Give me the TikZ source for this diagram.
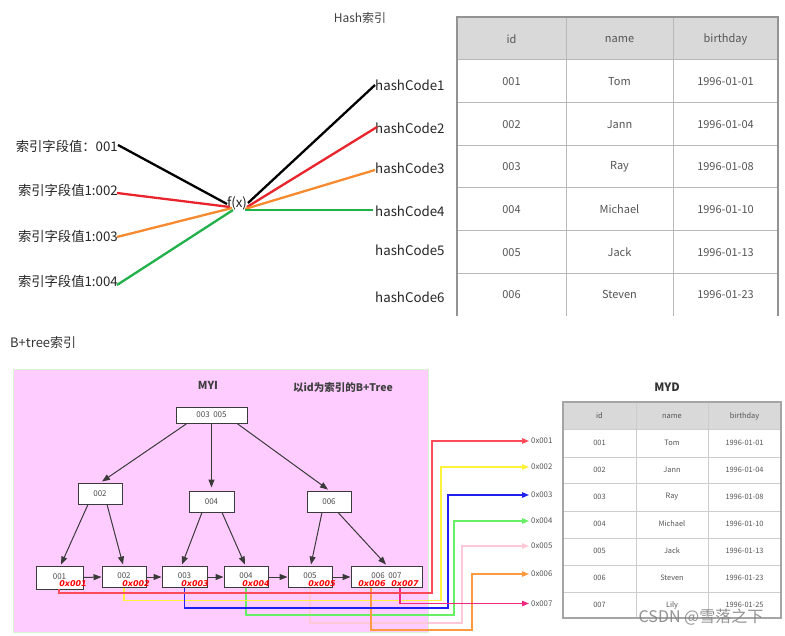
\documentclass[tikz,border=0pt]{standalone}
\usepackage{fontspec}
\setmainfont{Noto Sans CJK SC}
\newfontfamily\hexfont{DejaVu Sans}
\usetikzlibrary{arrows.meta}
\definecolor{hred}{HTML}{E8242C}
\definecolor{horange}{HTML}{F7892F}
\definecolor{hgreen}{HTML}{22B04B}
\definecolor{pinkbg}{HTML}{FFCCFF}
\definecolor{pinkborder}{HTML}{D8F5D0}
\definecolor{cred}{HTML}{FF4A5A}
\definecolor{cyellow}{HTML}{FFF23A}
\definecolor{cblue}{HTML}{2020F0}
\definecolor{cgreen}{HTML}{66F066}
\definecolor{cpink}{HTML}{FFC8D8}
\definecolor{corange}{HTML}{FF9A40}
\definecolor{cmag}{HTML}{F0287F}
\definecolor{hdrgray}{HTML}{D9D9D9}
\definecolor{gridgray}{HTML}{B8B8B8}
\definecolor{txtgray}{HTML}{555555}
\definecolor{treeline}{HTML}{3A3A3A}
\tikzset{
  hashlab/.style={font=\fontsize{13.3}{15}\selectfont, text=black!85, inner sep=0pt},
  hl/.style={line width=2.3pt},
  bigcell/.style={font=\fontsize{11}{13}\selectfont, text=txtgray, inner sep=0pt},
  smallcell/.style={font=\fontsize{7.4}{8}\selectfont, text=txtgray, inner sep=0pt},
  tnode/.style={draw=treeline, fill=white, line width=0.9pt, inner sep=0pt,
                font=\fontsize{8}{9}\selectfont, text=black!70},
  hexlab/.style={font=\hexfont\bfseries\itshape\fontsize{8}{9}\selectfont, text=red, inner sep=0pt},
  tarrow/.style={draw=treeline, line width=1pt, -{Triangle[length=8pt,width=6pt]}},
  carrow/.style={line width=1.3pt, -{Triangle[length=7pt,width=5.5pt]}},
  addr/.style={font=\fontsize{7.8}{9}\selectfont, text=txtgray, inner sep=0pt, anchor=west},
}
\begin{document}
\begin{tikzpicture}[x=1pt,y=-1pt]
\useasboundingbox (0,0) rectangle (785,636);
\fill[white] (0,0) rectangle (785,636);

% ---------------- Hash index ----------------
\node[font=\fontsize{12}{13}\selectfont, text=black!75] (htitle) at (360,18) {Hash索引};

\node[hashlab, anchor=east] (k1) at (118,146) {索引字段值：001};
\node[hashlab, anchor=east] (k2) at (118,190) {索引字段值1:002};
\node[hashlab, anchor=east] (k3) at (118,236) {索引字段值1:003};
\node[hashlab, anchor=east] (k4) at (118,281) {索引字段值1:004};

\node[hashlab] (fx) at (237,203) {f(x)};

\foreach \i/\y in {1/85,2/128,3/168,4/211,5/250,6/297}
  \node[hashlab, anchor=west] (h\i) at (375,\y) {hashCode\i};

\coordinate (s1) at (118,145);
\coordinate (s2) at (117,193);
\coordinate (s3) at (117,237);
\coordinate (s4) at (117,285);
\coordinate (e1) at (227,204);
\coordinate (e2) at (230,207);
\coordinate (e3) at (232,208);
\coordinate (e4) at (233,210);
\coordinate (o1) at (248,203);
\coordinate (o2) at (247,207);
\coordinate (o3) at (245,209);
\coordinate (o4) at (245,210);
\coordinate (c1) at (375,85);
\coordinate (c2) at (377,127);
\coordinate (c3) at (375,170);
\coordinate (c4) at (373,210);

\draw[hl, black]   (s1) -- (e1);
\draw[hl, hred]    (s2) -- (e2);
\draw[hl, horange] (s3) -- (e3);
\draw[hl, hgreen]  (s4) -- (e4);
\draw[hl, black]   (o1) -- (c1);
\draw[hl, hred]    (o2) -- (c2);
\draw[hl, horange] (o3) -- (c3);
\draw[hl, hgreen]  (o4) -- (c4);

% top table
\fill[hdrgray] (457,17) rectangle (778,60);
\foreach \y in {60,102.7,145.3,188,230.7,273.3}
  \draw[gridgray, line width=1pt] (457,\y) -- (778,\y);
\foreach \x in {566,673}
  \draw[gridgray, line width=1pt] (\x,17) -- (\x,316);
\draw[gridgray!80!black, line width=1.1pt] (457,316) -- (457,17) -- (778,17) -- (778,316);
\node[bigcell] (th1) at (511.5,39.5) {id};
\node[bigcell] (th2) at (619.5,39.5) {name};
\node[bigcell] (th3) at (725.5,39.5) {birthday};
\foreach \a/\b/\c [count=\i] in {001/Tom/1996-01-01,002/Jann/1996-01-04,003/Ray/1996-01-08,004/Michael/1996-01-10,005/Jack/1996-01-13,006/Steven/1996-01-23}{
  \pgfmathsetmacro{\yy}{81.5+42.67*(\i-1)}
  \node[bigcell] (ta\i) at (511.5,\yy) {\a};
  \node[bigcell] (tb\i) at (619.5,\yy) {\b};
  \node[bigcell] (tc\i) at (725.5,\yy) {\c};
}

% ---------------- B+tree ----------------
\node[font=\fontsize{13}{15}\selectfont, text=black!80, anchor=west, inner sep=0pt] (btitle) at (10,343) {B+tree索引};

\fill[pinkbg] (13,370) rectangle (428,632);
\draw[pinkborder, line width=1pt] (13,370) rectangle (428,632);
\node[font=\bfseries\fontsize{11}{12}\selectfont, text=black!75] (myi) at (208,385) {MYI};
\node[font=\bfseries\fontsize{10.5}{12}\selectfont, text=black!75] (myititle) at (343,388) {以id为索引的B+Tree};

\node[tnode, minimum width=71pt, minimum height=16pt] (root) at (211.5,415) {003\ \ 005};
\node[tnode, minimum width=44pt, minimum height=21pt] (n2) at (100,493.5) {002};
\node[tnode, minimum width=45pt, minimum height=21pt] (n4) at (211.5,501.5) {004};
\node[tnode, minimum width=44pt, minimum height=21pt] (n6) at (329,501.5) {006};

\node[tnode, minimum width=47pt, minimum height=23pt] (l1) at (59.5,577.5) {\raisebox{2.5pt}{001}};
\node[tnode, minimum width=44pt, minimum height=21pt] (l2) at (124,577) {\raisebox{2.5pt}{002}};
\node[tnode, minimum width=45pt, minimum height=21pt] (l3) at (184.5,577) {\raisebox{2.5pt}{003}};
\node[tnode, minimum width=44pt, minimum height=21pt] (l4) at (246,577) {\raisebox{2.5pt}{004}};
\node[tnode, minimum width=44pt, minimum height=21pt] (l5) at (310,577) {\raisebox{2.5pt}{005}};
\node[tnode, minimum width=71pt, minimum height=21pt] (l6) at (386.5,577) {\raisebox{2.5pt}{006\ \ 007}};

\node[hexlab] (x1) at (73,583.5) {0x001};
\node[hexlab] (x2) at (136,583.5) {0x002};
\node[hexlab] (x3) at (195,583.5) {0x003};
\node[hexlab] (x4) at (256,583.5) {0x004};
\node[hexlab] (x5) at (322,583.5) {0x005};
\node[hexlab] (x6) at (372,583.5) {0x006};
\node[hexlab] (x7) at (405,583.5) {0x007};

\draw[tarrow] ([xshift=-24.5pt]root.south) -- ([xshift=2pt,yshift=1pt]n2.north);
\draw[tarrow] (root.south) -- ([yshift=3pt]n4.north);
\draw[tarrow] ([xshift=25.5pt]root.south) -- ([xshift=-1pt,yshift=1pt]n6.north);
\draw[tarrow] ([xshift=-12pt]n2.south) -- ([xshift=1.5pt,yshift=1pt]l1.north);
\draw[tarrow] ([xshift=7pt]n2.south) -- ([xshift=-1pt,yshift=1.5pt]l2.north);
\draw[tarrow] ([xshift=-9.5pt]n4.south) -- ([xshift=-2.5pt,yshift=1.5pt]l3.north);
\draw[tarrow] ([xshift=10.5pt]n4.south) -- ([xshift=-1pt,yshift=1.5pt]l4.north);
\draw[tarrow] ([xshift=-7pt]n6.south) -- ([xshift=1pt,yshift=1.5pt]l5.north);
\draw[tarrow] ([xshift=9pt]n6.south) -- ([xshift=-0.5pt,yshift=1.5pt]l6.north);

\draw[tarrow] (l1.east) -- (l2.west);
\draw[tarrow] (l2.east) -- (l3.west);
\draw[tarrow] (l3.east) -- (l4.west);
\draw[tarrow] (l4.east) -- (l5.west);
\draw[tarrow] (l5.east) -- (l6.west);

% address labels
\node[addr] (a1) at (531,441) {0x001};
\node[addr] (a2) at (531,467) {0x002};
\node[addr] (a3) at (531,495) {0x003};
\node[addr] (a4) at (531,521) {0x004};
\node[addr] (a5) at (531,546) {0x005};
\node[addr] (a6) at (531,574) {0x006};
\node[addr] (a7) at (531,603.5) {0x007};

\coordinate (r1) at (432,593);
\coordinate (r2) at (441,600.5);
\coordinate (r3) at (448,608);
\coordinate (r4) at (454,615);
\coordinate (r5) at (462,623);
\coordinate (r6) at (472,630);

\draw[carrow, cpink]   (l5.south) |- (r5) |- ([xshift=-2pt]a5.west);
\draw[carrow, cgreen]  (l4.south) |- (r4) |- ([xshift=-2pt]a4.west);
\draw[carrow, cyellow] (l2.south) |- (r2) |- ([xshift=-2pt]a2.west);
\draw[carrow, corange] ([xshift=-15.5pt]l6.south) |- (r6) |- ([xshift=-2pt]a6.west);
\draw[carrow, cblue]   (l3.south) |- (r3) |- ([xshift=-2pt]a3.west);
\draw[carrow, cmag]    ([xshift=13.5pt]l6.south) |- ([xshift=-2pt]a7.west);
\draw[carrow, cred]    ([xshift=-0.5pt]l1.south) |- (r1) |- ([xshift=-2pt]a1.west);

% MYD table
\node[font=\bfseries\fontsize{11.5}{13}\selectfont, text=black!80] (myd) at (667,387) {MYD};
\fill[hdrgray] (563,402) rectangle (781,429);
\foreach \y in {429,457,483,511,538,565,592}
  \draw[gridgray!70, line width=0.9pt] (563,\y) -- (781,\y);
\foreach \x in {636,708}
  \draw[gridgray!70, line width=0.9pt] (\x,402) -- (\x,618);
\draw[gridgray!90!black, line width=1.1pt] (563,402) rectangle (781,618);
\node[smallcell] (mh1) at (599.5,416) {id};
\node[smallcell] (mh2) at (672,416) {name};
\node[smallcell] (mh3) at (744.5,416) {birthday};
\foreach \a/\b/\c [count=\i] in {001/Tom/1996-01-01,002/Jann/1996-01-04,003/Ray/1996-01-08,004/Michael/1996-01-10,005/Jack/1996-01-13,006/Steven/1996-01-23,007/Lily/1996-01-25}{
  \pgfmathsetmacro{\yy}{443+27*(\i-1)}
  \node[smallcell] (ma\i) at (599.5,\yy) {\a};
  \node[smallcell] (mb\i) at (672,\yy) {\b};
  \node[smallcell] (mc\i) at (744.5,\yy) {\c};
}

% watermark
\node[font=\fontsize{16}{18}\selectfont, text=black!50, opacity=0.85, inner sep=0pt] (wm) at (701,617) {CSDN @雪落之下};
\end{tikzpicture}
\end{document}
